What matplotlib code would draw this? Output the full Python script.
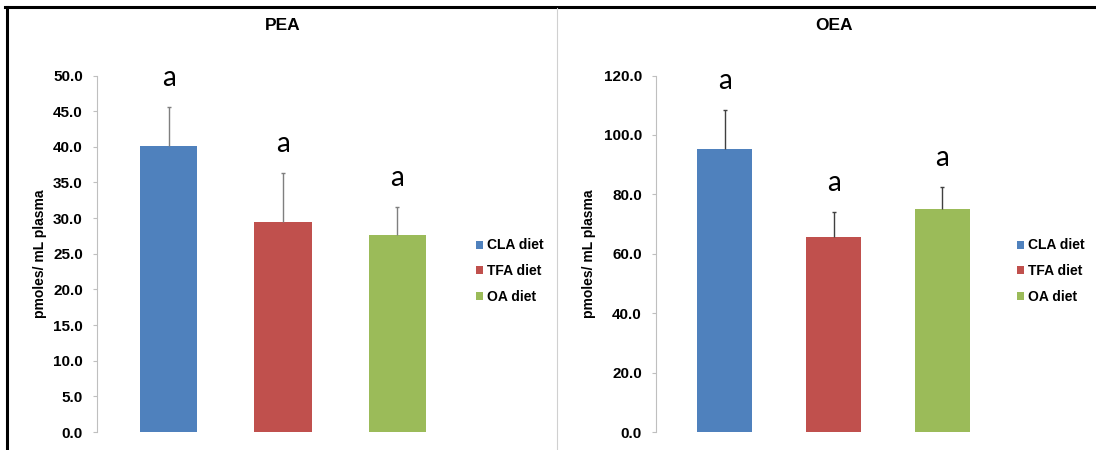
import numpy as np
import matplotlib
matplotlib.use("Agg")
import matplotlib.pyplot as plt
from matplotlib.lines import Line2D

# data
diets = ["CLA diet", "TFA diet", "OA diet"]
colors = ["#4F81BD", "#C0504D", "#9BBB59"]

pea_mean = [40.1, 29.5, 27.6]
pea_err = [5.5, 6.8, 4.0]
oea_mean = [95.4, 65.5, 75.0]
oea_err = [12.9, 8.4, 7.5]
letters = ["a", "a", "a"]

pea_ticks = np.arange(0, 50.1, 5)
oea_ticks = np.arange(0, 120.1, 20)

plt.rcParams["font.family"] = ["Liberation Sans", "DejaVu Sans"]

W, H = 1096, 450
fig = plt.figure(figsize=(W / 100, H / 100), dpi=100)


def draw_panel(rect, title, means, errs, ticks, ymax, errcolor, leg_x, ylab_x):
    ax = fig.add_axes(rect)
    x = np.arange(len(diets))
    bars = ax.bar(x, means, width=0.5, color=colors, label=diets, zorder=2)
    eb = ax.errorbar(x, means, yerr=[np.zeros(len(errs)), errs], fmt="none",
                     ecolor=errcolor, elinewidth=1.0, capsize=1.5,
                     capthick=1.0, zorder=3)
    # only the upper cap, like the original
    eb[1][0].set_visible(False)
    for xi, m, e, t in zip(x, means, errs, letters):
        ax.annotate(t, (xi, m + e), xytext=(0, 21), textcoords="offset points",
                    ha="center", va="center", fontsize=20,
                    family=["Lato", "DejaVu Sans"])
    ax.set_xlim(-0.63, 2.63)
    ax.set_ylim(0, ymax)
    ax.set_yticks(ticks)
    ax.set_yticklabels(["%.1f" % v for v in ticks], fontsize=11,
                       fontweight="bold")
    ax.tick_params(axis="y", direction="out", length=3.2, width=0.8,
                   color="#BFBFBF", pad=7)
    ax.set_xticks([])
    for s in ["top", "right", "bottom"]:
        ax.spines[s].set_visible(False)
    ax.spines["left"].set_color("#BFBFBF")
    ax.spines["left"].set_linewidth(0.8)
    cx = rect[0] + rect[2] / 2
    fig.text(cx, 1 - 26 / H, title, ha="center", va="center",
             fontsize=12.5, fontweight="bold")
    fig.text(ylab_x / W, 1 - 254 / H, "pmoles/ mL plasma", rotation=90,
             ha="center", va="center", fontsize=10, fontweight="bold")
    ax.legend(handles=bars.patches, labels=diets, loc="center left",
              bbox_to_anchor=(leg_x / W, 1 - 271 / H),
              bbox_transform=fig.transFigure, frameon=False,
              prop={"weight": "bold", "size": 10}, handlelength=0.5,
              handleheight=0.5, handletextpad=0.3, labelspacing=0.83,
              borderpad=0, borderaxespad=0)
    return ax


y0 = (H - 432) / H
y1 = (H - 75.5) / H
draw_panel([97 / W, y0, (469 - 97) / W, y1 - y0], "PEA", pea_mean, pea_err,
           pea_ticks, 50, "#7F7F7F", 476, 40)
draw_panel([656 / W, y0, (1011 - 656) / W, y1 - y0], "OEA", oea_mean, oea_err,
           oea_ticks, 120, "#404040", 1017, 589)

# frame lines of the original figure
fig.add_artist(Line2D([0.005, 1.0], [1 - 6.5 / H, 1 - 6.5 / H],
                      transform=fig.transFigure, color="black", lw=2.2))
fig.add_artist(Line2D([6.5 / W, 6.5 / W], [0, 1 - 6.5 / H],
                      transform=fig.transFigure, color="black", lw=2.2))
fig.add_artist(Line2D([557 / W, 557 / W], [0, 1 - 8 / H],
                      transform=fig.transFigure, color="#D0D0D0", lw=0.8))

fig.savefig("out.png", dpi=100)
